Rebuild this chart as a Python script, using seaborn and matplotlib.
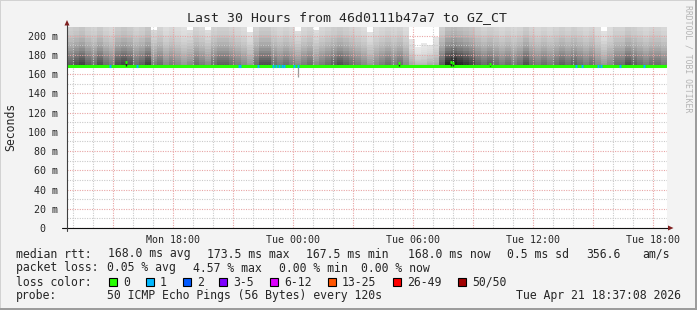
import numpy as np
import pandas as pd
import matplotlib
matplotlib.use("Agg")
import matplotlib.pyplot as plt
import seaborn as sns
from matplotlib.patches import Rectangle, Polygon
from matplotlib.ticker import FixedLocator, MultipleLocator, FuncFormatter

# ---------------- data ----------------
title = "Last 30 Hours from 46d0111b47a7 to GZ_CT"
x_start, x_end = 12.7, 42.7          # hours since Mon 00:00
tick_hours = [15, 18, 21, 24, 27, 30, 33, 36, 39, 42]
tick_names = {18: "Mon 18:00", 24: "Tue 00:00", 30: "Tue 06:00",
              36: "Tue 12:00", 42: "Tue 18:00"}

# smoke columns (18 min each), darkness 0..1 and visible top (ms)
smoke_times = [12.85 + 0.3 * i for i in range(100)]
smoke_darkness = [
    0.55, 0.60, 0.65, 0.55, 0.50, 0.60, 0.50, 0.45, 0.60, 0.65,
    0.60, 0.50, 0.55, 0.65, 0.45, 0.50, 0.40, 0.45, 0.40, 0.35,
    0.40, 0.50, 0.45, 0.40, 0.50, 0.55, 0.55, 0.50, 0.45, 0.40,
    0.35, 0.50, 0.60, 0.60, 0.50, 0.45, 0.50, 0.45, 0.40, 0.45,
    0.50, 0.40, 0.45, 0.50, 0.55, 0.60, 0.55, 0.50, 0.45, 0.40,
    0.35, 0.40, 0.45, 0.50, 0.45, 0.50, 0.40, 0.30, 0.25, 0.25,
    0.30, 0.30, 0.55, 0.75, 0.80, 0.75, 0.70, 0.65, 0.55, 0.50,
    0.55, 0.50, 0.45, 0.50, 0.45, 0.50, 0.60, 0.50, 0.45, 0.50,
    0.45, 0.50, 0.55, 0.50, 0.55, 0.50, 0.45, 0.50, 0.40, 0.35,
    0.40, 0.50, 0.50, 0.60, 0.55, 0.50, 0.45, 0.50, 0.50, 0.45]
smoke_top = [
    209, 209, 209, 209, 209, 209, 209, 209, 209, 209,
    209, 209, 209, 209, 206, 209, 209, 209, 209, 209,
    206, 209, 209, 206, 209, 209, 209, 209, 209, 209,
    204, 209, 209, 209, 209, 209, 209, 209, 205, 209,
    209, 206, 209, 209, 209, 209, 209, 209, 209, 209,
    204, 209, 209, 209, 209, 209, 209, 197, 188, 192,
    190, 199, 209, 209, 209, 209, 209, 209, 209, 209,
    209, 209, 209, 209, 209, 209, 209, 209, 209, 209,
    209, 209, 209, 209, 209, 209, 209, 209, 209, 205,
    209, 209, 209, 209, 209, 209, 209, 209, 209, 209]

median_times = [12.7, 42.65]
median_values = [168.0, 168.0]
loss1_times = [14.85, 16.2, 21.33, 22.25, 23.0, 23.15, 23.3, 23.45, 23.55,
               24.05, 24.25, 38.15, 38.45, 39.25, 39.4, 40.35, 41.55]
spike_times = [15.65, 29.3, 31.9, 32.0, 33.85]
spike_tops = [172.5, 172.0, 173.0, 172.0, 171.0]
low_spike_times = [24.25]
low_spike_mins = [157.0]

rtt_stats = ["168.0 ms avg", "173.5 ms max", "167.5 ms min",
             "168.0 ms now", "0.5 ms sd", "356.6", "am/s"]
loss_stats = ["0.05 % avg", "4.57 % max", "0.00 % min", "0.00 % now"]
loss_labels = ["0", "1", "2", "3-5", "6-12", "13-25", "26-49", "50/50"]
loss_colors = ["#26ff00", "#00b8ff", "#0059ff", "#7e00ff",
               "#dd00ff", "#ff5500", "#ff0000", "#a10000"]
probe_text = "50 ICMP Echo Pings (56 Bytes) every 120s"
stamp_text = "Tue Apr 21 18:37:08 2026"

# ---------------- layout / style ----------------
W, H = 697, 310
def fx(x): return x / W
def fy(y): return 1 - y / H

sns.set_style("white")
plt.rcParams['font.family'] = ['DejaVu Sans Mono', 'DejaVu Sans']
BG = "#F3F3F3"
fig = plt.figure(figsize=(W / 100, H / 100), dpi=100, facecolor=BG)
ax = fig.add_axes([fx(67), fy(228), 600 / W, 201 / H])
ax.set_facecolor("white")
for s in ax.spines.values():
    s.set_visible(False)

# smoke
d = np.array(smoke_darkness)
top = np.array(smoke_top, dtype=float)
base = 168.0
nb = 16
fr = np.linspace(0, 1, nb + 1) ** 1.6
for k in range(nb):
    hm = (fr[k] + fr[k + 1]) / 2
    g = np.clip(1 - d * (0.34 + 0.9 * (1 - hm) ** 1.6), 0.08, 0.95)
    cols = [(v, v, v) for v in g]
    ax.bar(smoke_times, (top - base) * (fr[k + 1] - fr[k]),
           bottom=base + (top - base) * fr[k], width=0.3, color=cols,
           linewidth=0, antialiased=False, zorder=1)

ax.vlines(low_spike_times, low_spike_mins, base, color="#9a9a9a", lw=0.9, zorder=2)

# median line
df = pd.DataFrame({"t": median_times, "rtt": median_values})
sns.lineplot(data=df, x="t", y="rtt", ax=ax, color=loss_colors[0], lw=2.2,
             estimator=None, zorder=4, legend=False)
ax.hlines([base] * len(loss1_times), np.array(loss1_times) - 0.07,
          np.array(loss1_times) + 0.07, color=loss_colors[1], lw=2.2, zorder=5)
ax.vlines(spike_times, base, spike_tops, color="#202020", lw=1.0, zorder=5)
ax.hlines(spike_tops, np.array(spike_times) - 0.05, np.array(spike_times) + 0.05,
          color=loss_colors[0], lw=2.0, zorder=6)

ax.set_xlim(x_start, x_end)
ax.set_ylim(0, 209)
ax.set_xlabel("")
ax.set_ylabel("")

# grid & ticks
ax.set_axisbelow(False)
ax.xaxis.set_major_locator(FixedLocator(tick_hours))
ax.xaxis.set_minor_locator(MultipleLocator(1))
ax.yaxis.set_major_locator(MultipleLocator(20))
ax.yaxis.set_minor_locator(MultipleLocator(10))
ax.xaxis.set_major_formatter(FuncFormatter(lambda v, p: tick_names.get(int(round(v)), "")))
ax.yaxis.set_major_formatter(FuncFormatter(lambda v, p: "0  " if v == 0 else f"{int(v)} m"))
ax.grid(which="major", color="#E8A4A4", linestyle=(0, (1, 1.2)), linewidth=0.8)
ax.grid(which="minor", color="#CACACA", linestyle=(0, (1, 1.2)), linewidth=0.8)
ax.tick_params(axis="x", which="major", length=2, width=0.72, color="#D08080",
               pad=3, labelsize=7.2)
ax.tick_params(axis="x", which="minor", length=2, width=0.72, color="#B0B0B0")
ax.tick_params(axis="y", which="major", length=2, width=0.72, color="#D08080",
               pad=4.5, labelsize=7.2)
ax.tick_params(axis="y", which="minor", length=2, width=0.72, color="#B0B0B0")

# axis lines + arrows
ax.plot([-5 / 600, 603 / 600], [0, 0], transform=ax.transAxes, color="#101010",
        lw=0.8, clip_on=False, zorder=7)
ax.plot([0, 0], [-3 / 201, 203 / 201], transform=ax.transAxes, color="#404040",
        lw=0.8, clip_on=False, zorder=7)
arrow_c = "#7F1F1F"
for pts in ([(64.5, 25.5), (69.5, 25.5), (67, 20)],
            [(668, 225.5), (668, 230.5), (673.5, 228)]):
    fig.add_artist(Polygon([(fx(a), fy(b)) for a, b in pts], closed=True,
                           transform=fig.transFigure, color=arrow_c, lw=0))

# texts
fig.text(fx(347), fy(18), title, ha="center", va="center", fontsize=9.5)
fig.text(fx(11), fy(127), "Seconds", rotation=90, ha="center", va="center", fontsize=8.3)
fig.text(fx(688), fy(59), "RRDTOOL / TOBI OETIKER", rotation=270, ha="center",
         va="center", fontsize=5.9, color="#B4B4B4")

FS = 8.3
fig.text(fx(16), fy(254), "median rtt:", va="center", fontsize=FS)
for s, x in zip(rtt_stats, [108, 207, 306, 408, 507, 586, 642]):
    fig.text(fx(x), fy(254), s, va="center", fontsize=FS)
fig.text(fx(16), fy(268), "packet loss:", va="center", fontsize=FS)
for s, x in zip(loss_stats, [107, 193, 279, 361]):
    fig.text(fx(x), fy(268), s, va="center", fontsize=FS)
fig.text(fx(16), fy(282), "loss color:", va="center", fontsize=FS)
for lab, c, x in zip(loss_labels, loss_colors, [109, 146, 183, 219, 270, 328, 393, 458]):
    fig.add_artist(Rectangle((fx(x), fy(286)), 8 / W, 8 / H, transform=fig.transFigure,
                             facecolor=c, edgecolor="black", lw=0.8))
    fig.text(fx(x + 14), fy(282), lab, va="center", fontsize=FS)
fig.text(fx(16), fy(296), "probe:", va="center", fontsize=FS)
fig.text(fx(107), fy(296), probe_text, va="center", fontsize=FS)
fig.text(fx(681), fy(296), stamp_text, va="center", ha="right", fontsize=FS)

# frame bevel
fig.add_artist(Rectangle((0, fy(1)), 1, 1 / H, transform=fig.transFigure, color="#D2D2D2", lw=0))
fig.add_artist(Rectangle((0, 0), 1 / W, 1, transform=fig.transFigure, color="#D2D2D2", lw=0))
fig.add_artist(Rectangle((0, 0), 1, 2 / H, transform=fig.transFigure, color="#9C9C9C", lw=0))
fig.add_artist(Rectangle((1 - 2 / W, 0), 2 / W, 1, transform=fig.transFigure, color="#9C9C9C", lw=0))

fig.savefig("out.png", dpi=100, facecolor=BG)
